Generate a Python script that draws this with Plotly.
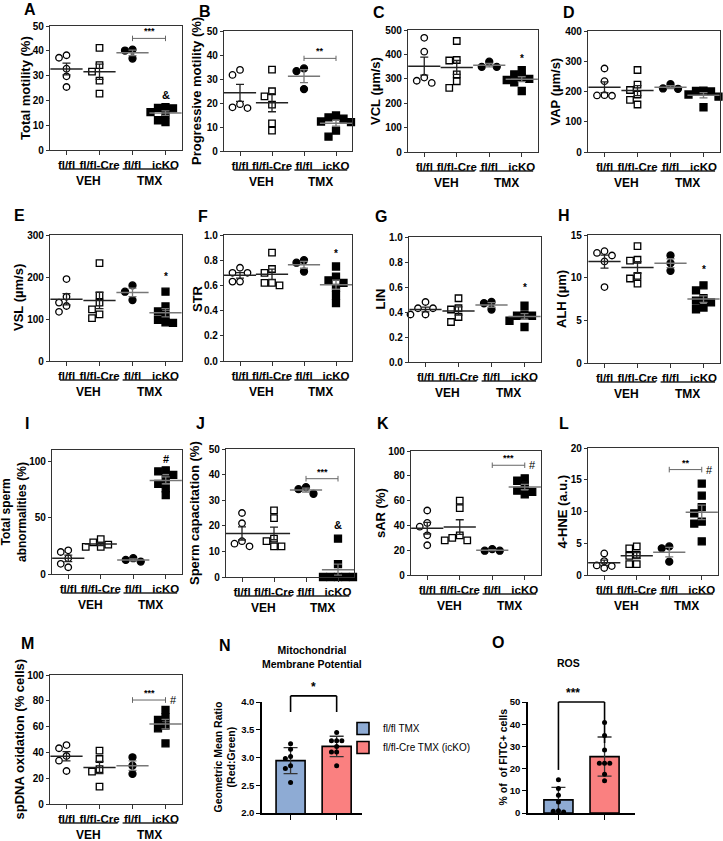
import numpy as np
import plotly.graph_objects as go

W, H = 723, 841
FONT = "Liberation Sans, Arial, sans-serif"

group_labels = ["fl/fl", "fl/fl-Cre", "fl/fl", "icKO"]

# each panel: [VEH fl/fl, VEH fl/fl-Cre, TMX fl/fl, TMX icKO]
total_motility = [[38.2, 37.2, 32.8, 29.7, 25.4], [41.2, 34.2, 31.6, 28.0, 22.7],
                  [40.5, 40.1, 36.9], [17.3, 17.0, 16.8, 15.3, 14.5, 12.0, 11.2]]
progressive_motility = [[33.8, 31.7, 19.5, 18.2, 17.9], [33.9, 24.9, 22.8, 19.3, 11.5, 8.5],
                        [34.4, 33.3, 25.8], [14.8, 13.5, 14.0, 12.0, 12.3, 8.5, 6.0]]
vcl = [[468, 411, 305, 292, 283], [455, 377, 375, 318, 290, 263],
       [349, 370, 349], [335, 318, 305, 300, 295, 285, 250]]
vap = [[276, 234, 187, 186, 188], [271, 223, 190, 205, 172, 157],
       [224, 209, 210], [202, 200, 203, 190, 183, 148]]
vsl = [[195, 153, 139, 131, 117], [233, 156, 139, 123, 111, 102],
       [180, 165, 145], [165, 130, 118, 110, 98, 92, 91]]
str_vals = [[0.74, 0.70, 0.70, 0.63, 0.63], [0.86, 0.73, 0.70, 0.62, 0.62, 0.60],
            [0.80, 0.78, 0.71], [0.75, 0.67, 0.64, 0.62, 0.58, 0.52, 0.46]]
lin = [[0.48, 0.43, 0.43, 0.38, 0.38], [0.51, 0.43, 0.42, 0.36, 0.32],
       [0.48, 0.47, 0.42], [0.45, 0.38, 0.37, 0.37, 0.33, 0.28]]
alh = [[13.1, 12.6, 12.9, 11.9, 8.9], [13.7, 12.0, 12.1, 10.2, 9.9, 9.3],
       [12.6, 11.7, 10.8], [9.1, 8.5, 7.6, 7.3, 7.1, 6.5, 6.3]]
abnormalities = [[21, 19.5, 14, 9, 6], [31, 28, 26, 24, 24],
                 [14, 12.5, 11], [92, 91, 88, 84, 80, 76, 70]]
capacitation = [[25, 21, 14, 13, 12], [26, 23, 15, 14, 12, 12],
                [35.1, 34.3, 32.5], [15, 5, 0, 0, 0, 0, 0]]
sar = [[52, 42, 39, 32, 24], [60, 54, 32, 30, 28, 28],
       [19.6, 20.9, 19.6], [78, 76, 72, 68, 67, 65]]
hne = [[3.4, 2.2, 1.5, 1.4, 1.1], [4.5, 4.2, 3.2, 3.0, 1.7, 1.7],
       [4.5, 4.2, 2.1], [14.4, 12.5, 10.7, 9.7, 8.4, 8.1, 5.3]]
spdna = [[45.7, 43.2, 37.2, 33.6, 25.6], [41.3, 34.9, 27.1, 25.1, 13.4],
         [36.2, 29.7, 23.3], [72.9, 67.2, 65.1, 60.7, 58.7, 47.0]]

mmp_fl = [3.25, 3.15, 3.02, 2.98, 2.85, 2.80, 2.55]
mmp_ko = [3.45, 3.30, 3.30, 3.30, 3.20, 3.10, 3.10, 2.85]
ros_fl = [15, 11, 8, 5, 1, 0.5, 0.8]
ros_ko = [40.8, 34.9, 28.4, 22.4, 22.4, 22.4, 17.4, 14.5]

# significance marks
brackets = {"A": (45, "***"), "B": (38.6, "**"), "J": (38.4, "***"),
            "K": (88.5, "***"), "L": (16.6, "**"), "M": (80.6, "***")}
over_ko = {"A": ("&", 22), "C": ("*", 383), "E": ("*", 202), "F": ("*", 0.855),
           "G": ("*", 0.595), "H": ("*", 10.9), "I": ("#", 102), "J": ("&", 20.3)}
hash_end = ["K", "L", "M"]

# letter, data, box in px (x0, x1, top, bottom), y range, dtick, y title, title x, format
panels = [
    ("A", total_motility, (50, 182, 26, 150), (0, 50), 10, "Total motility (%)", 25, None),
    ("B", progressive_motility, (224, 352, 31, 151), (0, 50), 10, "Progressive motility (%)", 196, None),
    ("C", vcl, (408, 538, 30, 152), (0, 500), 100, "VCL (µm/s)", 375, None),
    ("D", vap, (588, 720, 31, 152), (0, 400), 100, "VAP (µm/s)", 555, None),
    ("E", vsl, (50, 182, 235, 361), (0, 300), 100, "VSL (µm/s)", 18, None),
    ("F", str_vals, (224, 352, 235, 361), (0, 1), 0.2, "STR", 197, ".1f"),
    ("G", lin, (409, 541, 237, 362), (0, 1), 0.2, "LIN", 380, ".1f"),
    ("H", alh, (588, 720, 235, 363), (0, 15), 5, "ALH (µm)", 562, None),
    ("I", abnormalities, (52, 182, 450, 574), (0, 110), 50, "Total sperm<br>abnormalities (%)", 14, None),
    ("J", capacitation, (226, 354, 449, 577), (0, 50), 10, "Sperm capacitation (%)", 194, None),
    ("K", sar, (411, 541, 451, 575), (0, 100), 20, "sAR (%)", 380, None),
    ("L", hne, (588, 718, 448, 575), (0, 20), 5, "4-HNE (a.u.)", 562, None),
    ("M", spdna, (50, 182, 675, 804), (0, 100), 20, "spDNA oxidation (% cells)", 19, None),
]
letter_pos = {"A": (30, 10), "B": (205, 11), "C": (379, 12), "D": (569, 12),
              "E": (19, 215), "F": (203, 217), "G": (381, 217), "H": (564, 215),
              "I": (27, 423), "J": (200, 423), "K": (383, 423), "L": (564, 423),
              "M": (27, 643), "N": (225, 645), "O": (498, 642)}

XR = (0.5, 4.5)
symbols = ["circle-open", "square-open", "circle", "square"]


def swarm(vals, ppy, ppx, d):
    # simple beeswarm: spread points that would overlap
    placed, offs = [], [0.0] * len(vals)
    for i in sorted(range(len(vals)), key=lambda k: -vals[k]):
        y = vals[i] * ppy
        for k in [0, -1, 1, -2, 2, -3, 3]:
            x = k * d
            if all((x - a) ** 2 + (y - b) ** 2 >= (0.9 * d) ** 2 for a, b in placed):
                break
        placed.append((x, y))
        offs[i] = x / ppx
    return offs


def px_x(box, rng, v):
    return (box[0] + (v - rng[0]) / (rng[1] - rng[0]) * (box[1] - box[0])) / W


def px_y(box, rng, v):
    return 1 - (box[3] - (v - rng[0]) / (rng[1] - rng[0]) * (box[3] - box[2])) / H


def bold(size, color="black"):
    return dict(family=FONT, size=size, color=color, weight="bold")


def ytitle(text, x, box, size):
    return dict(xref="paper", yref="paper", x=x / W, y=1 - (box[2] + box[3]) / 2 / H,
                text=text, textangle=-90, showarrow=False, font=bold(size),
                xanchor="center", yanchor="middle")


fig = go.Figure()
layout = {}
shapes, annotations = [], []

for n, (letter, data, box, yr, dt, title, tx, fmt) in enumerate(panels, start=1):
    xa, ya = f"x{n}", f"y{n}"
    ppy = (box[3] - box[2]) / (yr[1] - yr[0])
    ppx = (box[1] - box[0]) / (XR[1] - XR[0])
    for g, vals in enumerate(data):
        offs = swarm(vals, ppy, ppx, 7.5)
        fig.add_trace(go.Scatter(
            x=[g + 1 + o for o in offs], y=vals, mode="markers", xaxis=xa, yaxis=ya,
            showlegend=False, cliponaxis=False,
            marker=dict(symbol=symbols[g], size=6.5 if g < 2 else 7, color="black",
                        line=dict(width=1.3, color="black"))))
        v = np.array(vals, dtype=float)
        lc = "#222" if g < 2 else "#777"
        fig.add_trace(go.Scatter(
            x=[g + 1], y=[v.mean()], mode="markers", xaxis=xa, yaxis=ya, showlegend=False,
            marker=dict(symbol="line-ew", size=23, line=dict(width=1.5, color=lc)),
            error_y=dict(type="data", array=[v.std(ddof=1) / np.sqrt(len(v))],
                         width=4, thickness=1.3, color=lc)))
    layout[f"xaxis{n}"] = dict(
        domain=[box[0] / W, box[1] / W], range=XR, anchor=ya, tickvals=[1, 2, 3, 4],
        ticktext=group_labels, ticks="outside", ticklen=4, tickwidth=1.2, tickcolor="#333",
        showline=True, mirror=True, linecolor="#333", linewidth=1.3, showgrid=False,
        zeroline=False, tickfont=bold(11.5), tickangle=0, fixedrange=True)
    layout[f"yaxis{n}"] = dict(
        domain=[1 - box[3] / H, 1 - box[2] / H], range=yr, dtick=dt, anchor=xa,
        ticks="outside", ticklen=3, tickwidth=1.2, tickcolor="#333", showline=True,
        mirror=True, linecolor="#333", linewidth=1.3, showgrid=False, zeroline=False,
        tickfont=bold(10), tickformat=fmt)
    annotations.append(ytitle(title, tx, box, 12 if "<br>" in title else 13))

    # group underline and treatment names
    for (a, b), lab in [((0.8, 2.55), "VEH"), ((2.7, 4.35), "TMX")]:
        yy = 1 - (box[3] + 19) / H
        shapes.append(dict(type="line", xref="paper", yref="paper", x0=px_x(box, XR, a),
                           x1=px_x(box, XR, b), y0=yy, y1=yy, line=dict(color="#222", width=1.4)))
        annotations.append(dict(xref="paper", yref="paper", x=px_x(box, XR, (a + b) / 2),
                                y=1 - (box[3] + 31) / H, text=lab, showarrow=False,
                                font=bold(12), xanchor="center", yanchor="middle"))

    cap = 0.022 * (yr[1] - yr[0])
    if letter in brackets:
        by, stars = brackets[letter]
        shapes.append(dict(type="line", xref=xa, yref=ya, x0=3, x1=4, y0=by, y1=by,
                           line=dict(color="#666", width=1)))
        for xe in (3, 4):
            shapes.append(dict(type="line", xref=xa, yref=ya, x0=xe, x1=xe, y0=by - cap,
                               y1=by + cap, line=dict(color="#666", width=1)))
        annotations.append(dict(xref=xa, yref=ya, x=3.5, y=by, yshift=7, text=stars,
                                showarrow=False, font=bold(9), yanchor="middle"))
        if letter in hash_end:
            annotations.append(dict(xref=xa, yref=ya, x=4.07, y=by, text="#", showarrow=False,
                                    font=dict(family=FONT, size=11, color="black"),
                                    xanchor="left", yanchor="middle"))
    if letter in over_ko:
        sym, sy = over_ko[letter]
        annotations.append(dict(xref=xa, yref=ya, x=4, y=sy, text=sym, showarrow=False,
                                font=bold(11 if sym != "*" else 10), yanchor="middle"))

# N and O: bar charts with SD
bar_panels = [
    (14, mmp_fl, mmp_ko, (262, 362, 702, 813), (-0.62, 1.55), (2.0, 4.0), 0.5, ".1f",
     "Geometric Mean Ratio<br>(Red:Green)", 224, "Mitochondrial<br>Membrane Potential", "*",
     (4.11, 3.82, 3.82)),
    (15, ros_fl, ros_ko, (528, 635, 702, 813), (-0.66, 1.66), (0, 50), 10, None,
     "% of  of FITC+ cells", 502, "ROS", "***", (50.0, 19.4, 31.5)),
]
bar_colors = ["#8eabd4", "#fa8080"]
bar_names = ["fl/fl TMX", "fl/fl-Cre TMX (icKO)"]

for n, fl, ko, box, xr, yr, dt, fmt, ytext, tx, ptitle, stars, (btop, leg0, leg1) in bar_panels:
    xa, ya = f"x{n}", f"y{n}"
    ppy = (box[3] - box[2]) / (yr[1] - yr[0])
    ppx = (box[1] - box[0]) / (xr[1] - xr[0])
    for g, vals in enumerate([fl, ko]):
        v = np.array(vals, dtype=float)
        fig.add_trace(go.Bar(
            x=[g], y=[v.mean()], width=0.63, xaxis=xa, yaxis=ya, name=bar_names[g],
            showlegend=(n == 14),
            marker=dict(color=bar_colors[g], line=dict(color="black", width=1.6)),
            error_y=dict(type="data", array=[v.std(ddof=1)], width=7, thickness=1.3,
                         color="#333")))
        offs = swarm(vals, ppy, ppx, 5.2)
        fig.add_trace(go.Scatter(
            x=[g + o for o in offs], y=vals, mode="markers", xaxis=xa, yaxis=ya,
            showlegend=False, cliponaxis=False,
            marker=dict(symbol="circle", size=5, color="black")))
    layout[f"xaxis{n}"] = dict(
        domain=[box[0] / W, box[1] / W], range=xr, anchor=ya, tickvals=[0, 1],
        ticktext=["", ""], ticks="outside", ticklen=5, tickwidth=1.3, tickcolor="black",
        showline=True, linecolor="black", linewidth=1.5, showgrid=False, zeroline=False,
        fixedrange=True)
    layout[f"yaxis{n}"] = dict(
        domain=[1 - box[3] / H, 1 - box[2] / H], range=yr, dtick=dt, anchor=xa,
        ticks="outside", ticklen=4, tickwidth=1.3, tickcolor="black", showline=True,
        linecolor="black", linewidth=1.5, showgrid=False, zeroline=False,
        tickfont=bold(9.5), tickformat=fmt)
    annotations.append(ytitle(ytext, tx, box, 10.5))
    # bracket
    yt = px_y(box, yr, btop)
    x0p, x1p = px_x(box, xr, 0), px_x(box, xr, 1)
    shapes.append(dict(type="line", xref="paper", yref="paper", x0=x0p, x1=x1p, y0=yt, y1=yt,
                       line=dict(color="black", width=1.6)))
    shapes.append(dict(type="line", xref="paper", yref="paper", x0=x0p, x1=x0p, y0=yt,
                       y1=px_y(box, yr, leg0), line=dict(color="black", width=1.6)))
    shapes.append(dict(type="line", xref="paper", yref="paper", x0=x1p, x1=x1p, y0=yt,
                       y1=px_y(box, yr, leg1), line=dict(color="black", width=1.6)))
    annotations.append(dict(xref="paper", yref="paper", x=(x0p + x1p) / 2, y=yt, yshift=9,
                            text=stars, showarrow=False, font=bold(12), yanchor="middle"))
    annotations.append(dict(xref="paper", yref="paper", x=(box[0] + box[1]) / 2 / W,
                            y=1 - (box[2] - (45 if n == 14 else 39)) / H, text=ptitle,
                            showarrow=False, font=bold(10.5), yanchor="middle"))

for letter, (lx, ly) in letter_pos.items():
    annotations.append(dict(xref="paper", yref="paper", x=lx / W, y=1 - ly / H, text=letter,
                            showarrow=False, font=bold(16), xanchor="center", yanchor="middle"))

fig.update_layout(
    width=W, height=H, template="none", margin=dict(l=0, r=0, t=0, b=0),
    paper_bgcolor="white", plot_bgcolor="white", barmode="overlay",
    font=dict(family=FONT, color="black"),
    showlegend=True,
    legend=dict(x=343 / W, y=1 - 714 / H, xanchor="left", yanchor="top",
                font=dict(family=FONT, size=10, color="black"), bgcolor="rgba(0,0,0,0)",
                itemwidth=30, tracegroupgap=0),
    shapes=shapes, annotations=annotations, dragmode=False, **layout)

fig.write_html("out.html", config={"displayModeBar": False},
               post_script="document.body.style.margin='0px';document.body.style.overflow='hidden';")
